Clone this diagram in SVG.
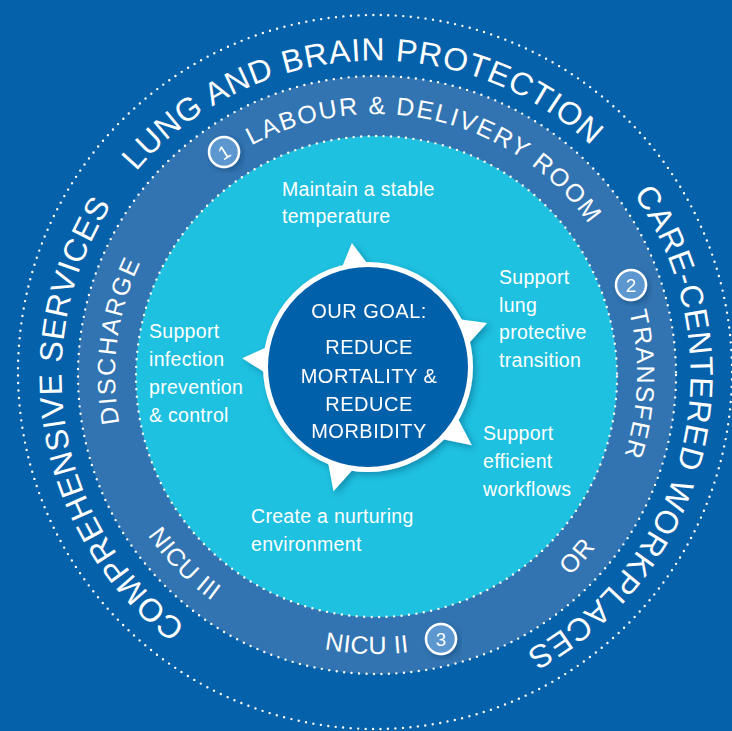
<svg xmlns="http://www.w3.org/2000/svg" width="732" height="731" viewBox="0 0 732 731">
<defs>
<style>
.ring{font-family:"Liberation Sans",Arial,sans-serif;fill:#fff}
.outer{font-size:32px;letter-spacing:0.85px}
.band{font-size:25px}
.inner{font-family:"Liberation Sans",Arial,sans-serif;fill:#fff;font-size:19.5px;letter-spacing:0.3px}
.goal{font-family:"Liberation Sans",Arial,sans-serif;fill:#fff;font-size:20px;letter-spacing:0.5px;text-anchor:middle}
.dots{fill:none;stroke:#fff;stroke-width:2.4;stroke-linecap:round;stroke-dasharray:0 7.5}
.badge circle{fill:#5c97d0;stroke:#fff;stroke-width:2.5}
.badge text{font-family:"Liberation Sans",Arial,sans-serif;fill:#fff;font-size:19px;text-anchor:middle}
</style>
<path id="outerCW" d="M 376 689.5 A 314.5 314.5 0 1 1 376 60.5 A 314.5 314.5 0 1 1 376 689.5"/>
<path id="bandCW" d="M 376 636 A 261 261 0 1 1 376 114 A 261 261 0 1 1 376 636"/>
<path id="bandCCW" d="M 376 96 A 279 279 0 1 0 376 654 A 279 279 0 1 0 376 96"/>
<filter id="shadow" x="-20%" y="-20%" width="140%" height="140%">
<feDropShadow dx="3" dy="3" stdDeviation="3" flood-color="#003060" flood-opacity="0.35"/>
</filter>
</defs>
<rect width="732" height="731" fill="#0661ab"/>

<g id="outer-ring">
<circle class="dots" cx="375" cy="372" r="357"/>
<text class="ring outer" text-anchor="middle"><textPath href="#outerCW" startOffset="49.11%">LUNG AND BRAIN PROTECTION</textPath></text>
<text class="ring outer" text-anchor="middle"><textPath href="#outerCW" startOffset="78.69%">CARE-CENTERED WORKPLACES</textPath></text>
<text class="ring outer" text-anchor="middle"><textPath href="#outerCW" startOffset="22.22%">COMPREHENSIVE SERVICES</textPath></text>
</g>

<g id="band-ring">
<circle cx="377" cy="375" r="299" fill="#3274b1"/>
<circle class="dots" cx="377" cy="375" r="299"/>
<text class="ring band" text-anchor="middle" style="letter-spacing:1.8px"><textPath href="#bandCW" startOffset="53.68%">LABOUR &amp; DELIVERY ROOM</textPath></text>
<text class="ring band" text-anchor="middle" style="letter-spacing:1.6px"><textPath href="#bandCW" startOffset="75.58%">TRANSFER</textPath></text>
<text class="ring band" text-anchor="middle" style="letter-spacing:2px"><textPath href="#bandCW" startOffset="27.11%">DISCHARGE</textPath></text>
<text class="ring band" text-anchor="middle" style="letter-spacing:0.5px"><textPath href="#bandCCW" startOffset="37.39%">NICU III</textPath></text>
<text class="ring band" text-anchor="middle" style="letter-spacing:0.5px"><textPath href="#bandCCW" startOffset="49.47%">NICU II</textPath></text>
<text class="ring band" text-anchor="middle" style="letter-spacing:1px"><textPath href="#bandCCW" startOffset="63.33%">OR</textPath></text>
</g>

<g id="badge-1" class="badge" filter="url(#shadow)">
<circle cx="224" cy="152" r="15"/>
<text x="224" y="159" transform="rotate(-32 224 152)">1</text>
</g>
<g id="badge-2" class="badge" filter="url(#shadow)">
<circle cx="631" cy="285" r="15"/>
<text x="631" y="292">2</text>
</g>
<g id="badge-3" class="badge" filter="url(#shadow)">
<circle cx="441" cy="639" r="15"/>
<text x="441" y="646">3</text>
</g>

<g id="inner-ring">
<circle cx="376.5" cy="376.5" r="240.5" fill="#1ec1e0"/>
<circle class="dots" cx="376.5" cy="376.5" r="240.5"/>
</g>

<g id="goal" filter="url(#shadow)">
<g fill="#fff">
<polygon points="351.9,243 340.6,270.8 369.9,267"/>
<polygon points="487.1,322.9 455.6,318.8 465.9,346.6"/>
<polygon points="471.8,445.2 455.9,414.7 438.1,438.3"/>
<polygon points="333.5,491.3 355.8,466.3 327.3,458.4"/>
<polygon points="242.3,358.2 268.3,374.8 270.4,345.4"/>
</g>
<circle cx="368" cy="367" r="102.5" fill="#0660aa" stroke="#fff" stroke-width="5"/>
<text class="goal" x="369" y="318">OUR GOAL:</text>
<text class="goal" x="369" y="354">REDUCE</text>
<text class="goal" x="369" y="382.5">MORTALITY &amp;</text>
<text class="goal" x="369" y="410.5">REDUCE</text>
<text class="goal" x="369" y="437.5">MORBIDITY</text>
</g>

<g id="item-temperature">
<text class="inner" x="282" y="196">Maintain a stable</text>
<text class="inner" x="282" y="223">temperature</text>
</g>
<g id="item-lung">
<text class="inner" x="499" y="284">Support</text>
<text class="inner" x="499" y="311.5">lung</text>
<text class="inner" x="499" y="339">protective</text>
<text class="inner" x="499" y="366.5">transition</text>
</g>
<g id="item-infection">
<text class="inner" x="149" y="338">Support</text>
<text class="inner" x="149" y="366">infection</text>
<text class="inner" x="149" y="394">prevention</text>
<text class="inner" x="149" y="422">&amp; control</text>
</g>
<g id="item-workflows">
<text class="inner" x="483" y="440">Support</text>
<text class="inner" x="483" y="468">efficient</text>
<text class="inner" x="483" y="496">workflows</text>
</g>
<g id="item-environment">
<text class="inner" x="251" y="523">Create a nurturing</text>
<text class="inner" x="251" y="551">environment</text>
</g>
</svg>
